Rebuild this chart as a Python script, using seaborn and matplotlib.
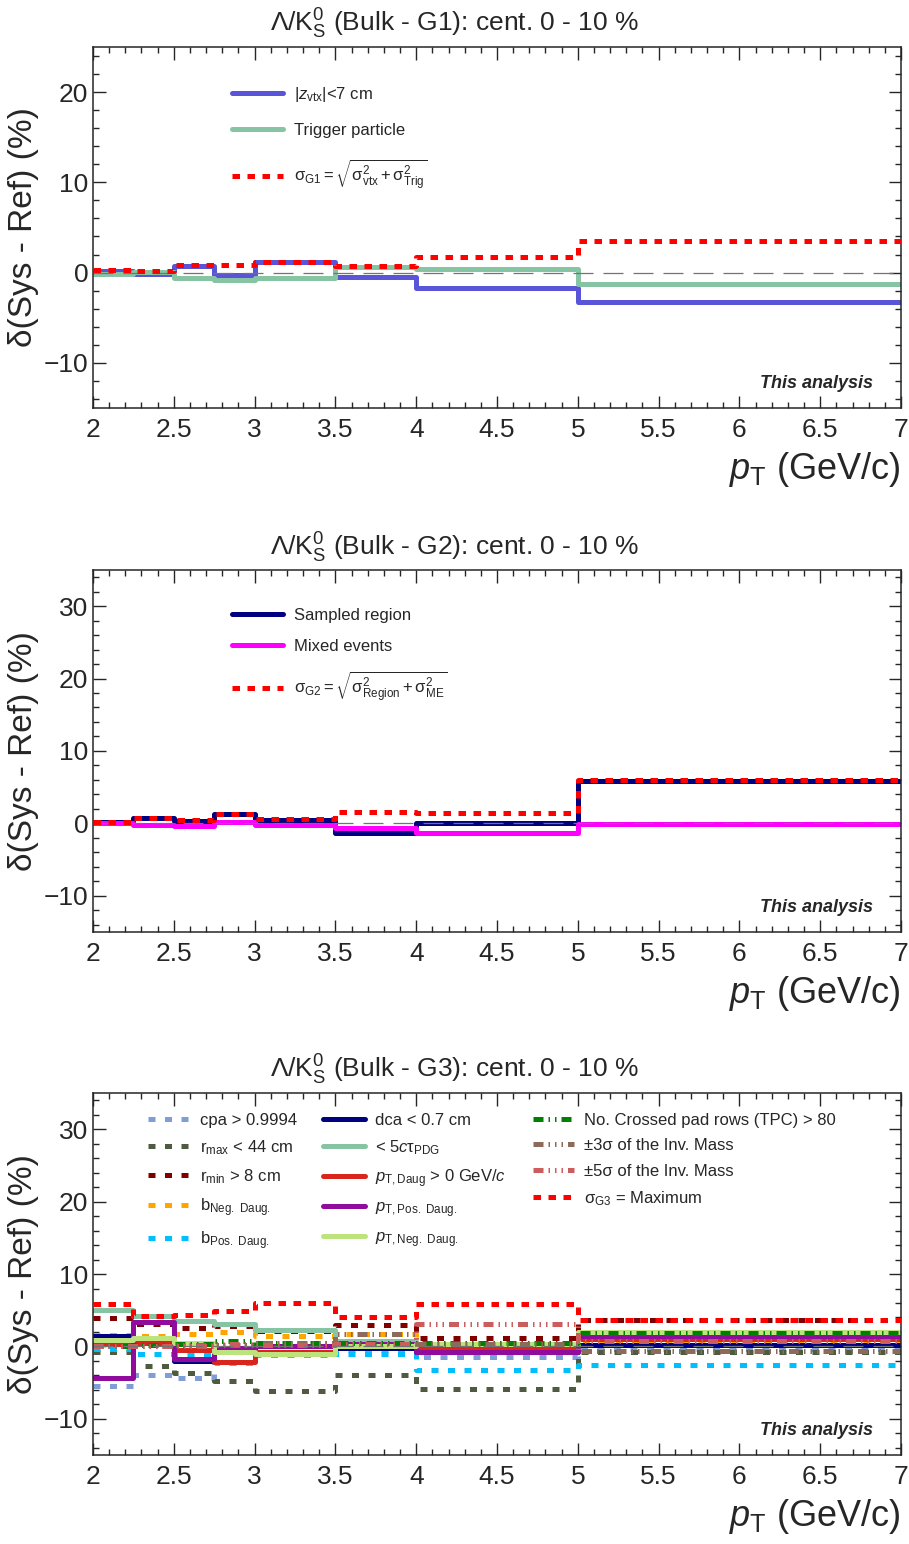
import matplotlib

matplotlib.use("Agg")

import matplotlib.pyplot as plt
import seaborn as sns
from matplotlib.ticker import FuncFormatter, MultipleLocator

# bin edges in pT (GeV/c)
PT_EDGES = [2.0, 2.25, 2.5, 2.75, 3.0, 3.5, 4.0, 5.0, 7.0]

# G1 group
G1_ZVTX = [0.2, -0.15, 0.7, -0.3, 1.15, -0.5, -1.7, -3.3]
G1_TRIG = [-0.2, 0.1, -0.6, -0.85, -0.6, 0.6, 0.35, -1.25]
G1_TOTAL = [0.3, 0.15, 0.8, 0.85, 1.2, 0.7, 1.7, 3.5]

# G2 group
G2_REGION = [0.2, 0.7, 0.3, 1.25, 0.5, -1.4, 0.0, 5.9]
G2_MIXED = [0.1, -0.25, -0.35, 0.2, -0.25, -0.6, -1.4, -0.1]
G2_TOTAL = [0.2, 0.7, 0.4, 1.25, 0.55, 1.6, 1.45, 5.95]

# G3 group (topological / track cuts)
G3_CPA = [-5.5, -3.9, -4.4, -2.3, -1.2, -0.5, -1.5, -0.4]
G3_RMAX = [-0.8, -2.7, -3.6, -4.8, -6.1, -4.0, -5.9, -0.8]
G3_RMIN = [3.9, 3.1, 2.6, 2.8, 2.2, 3.0, 1.1, 3.6]
G3_BNEG = [1.6, 1.4, 1.7, 2.0, 1.5, 1.75, 0.3, 0.5]
G3_BPOS = [-0.3, -1.1, -1.1, -0.7, -0.7, -1.1, -3.3, -2.5]
G3_DCA = [1.5, 0.5, -2.0, -0.3, 0.0, -0.2, -0.7, 0.2]
G3_CTAU = [5.0, 4.2, 3.5, 3.1, 2.3, 0.7, 0.4, 1.25]
G3_PTDAUG = [0.3, 0.5, -0.5, -2.1, -0.7, 0.2, -0.2, 1.0]
G3_PTPOS = [-4.4, 3.4, -1.8, -0.2, 0.0, 0.3, -0.7, 1.5]
G3_PTNEG = [0.9, 1.1, 0.5, -0.8, -1.0, 0.0, 0.3, 2.0]
G3_CROSSED = [0.0, 0.2, 0.3, 0.7, 0.5, 0.5, 0.5, 1.8]
G3_SIG3 = [0.0, 0.0, 0.2, 0.2, 0.5, 1.7, 0.3, -0.6]
G3_SIG5 = [0.0, 0.1, 0.0, 0.3, 0.2, 0.4, 3.1, 0.8]
G3_MAX = [5.8, 4.2, 4.4, 4.9, 6.0, 4.0, 5.8, 3.6]

SOLID = "-"
DOTTED = (0, (1.5, 1.5))
DASHED = (0, (1.4, 1.9))
DASHDOT2 = (0, (2.0, 1.0, 0.3, 1.0, 0.3, 1.0))
DASHDOT3 = (0, (2.0, 1.0, 0.3, 1.0, 0.3, 1.0, 0.3, 1.0))

sns.set_style("ticks")
plt.rcParams["font.family"] = ["Liberation Sans", "DejaVu Sans"]
plt.rcParams["mathtext.fontset"] = "custom"
plt.rcParams["mathtext.rm"] = "Liberation Sans"
plt.rcParams["mathtext.it"] = "Liberation Sans:italic"
plt.rcParams["mathtext.bf"] = "Liberation Sans:bold"
plt.rcParams["axes.linewidth"] = 1.1


def draw_steps(ax, values, color, style, label, lw=3.6, zorder=2):
    y = list(values) + [values[-1]]
    sns.lineplot(
        x=PT_EDGES,
        y=y,
        ax=ax,
        color=color,
        linewidth=lw,
        linestyle=style,
        drawstyle="steps-post",
        estimator=None,
        sort=False,
        label=label,
        zorder=zorder,
    )


def style_axes(ax, ylim, title, title_y):
    ax.set_xlim(2, 7)
    ax.set_ylim(*ylim)
    ax.axhline(0, color="0.45", lw=0.9, linestyle=(0, (16, 8)), zorder=2.5)
    ax.xaxis.set_major_locator(MultipleLocator(0.5))
    ax.xaxis.set_minor_locator(MultipleLocator(0.1))
    ax.yaxis.set_major_locator(MultipleLocator(10))
    ax.yaxis.set_minor_locator(MultipleLocator(2))
    ax.xaxis.set_major_formatter(FuncFormatter(lambda v, _: f"{v:g}"))
    ax.yaxis.set_major_formatter(FuncFormatter(lambda v, _: f"{v:g}".replace("-", "\u2212")))
    ax.tick_params(which="both", direction="in", top=True, right=True, width=1.0)
    ax.tick_params(which="major", length=9, labelsize=19)
    ax.tick_params(axis="x", which="major", pad=7)
    ax.tick_params(which="minor", length=4.5)
    fig.text(0.5, title_y, title, ha="center", va="center", fontsize=19)
    ax.set_ylabel("\u03b4(Sys - Ref) (%)", fontsize=24, labelpad=3)
    ax.set_xlabel("$p_{\\mathrm{T}}$ (GeV/c)", fontsize=26, loc="right", labelpad=6)
    ax.text(0.965, 0.045, "This analysis", transform=ax.transAxes, ha="right", va="bottom",
            fontsize=13, fontweight="bold", fontstyle="italic")
    for s in ax.spines.values():
        s.set_visible(True)


fig = plt.figure(figsize=(9.09, 15.44), dpi=100)
ax1 = fig.add_axes([0.1023, 0.7358, 0.8889, 0.2338])
ax2 = fig.add_axes([0.1023, 0.3964, 0.8889, 0.2345])
ax3 = fig.add_axes([0.1023, 0.0576, 0.8889, 0.2345])

# ---- G1 ----
draw_steps(ax1, G1_ZVTX, "#5a54d8", SOLID, "$|z_{\\mathrm{vtx}}|$<7 cm")
draw_steps(ax1, G1_TRIG, "#86c4a3", SOLID, "Trigger particle")
draw_steps(ax1, G1_TOTAL, "#ff0000", DOTTED,
           "$\\mathrm{\u03c3}_{\\mathrm{G1}} = \\sqrt{\\mathrm{\u03c3}^2_{\\mathrm{vtx}}"
           " + \\mathrm{\u03c3}^2_{\\mathrm{Trig}}}$", zorder=3)
style_axes(ax1, (-15, 25), "\u039b/K$^{0}_{\\mathrm{S}}$ (Bulk - G1): cent. 0 - 10 %", 0.9845)
ax1.legend(loc="upper left", bbox_to_anchor=(0.172, 0.895), frameon=False, fontsize=12,
           handlelength=3.05, handletextpad=0.7, labelspacing=1.15, borderpad=0, borderaxespad=0)

# ---- G2 ----
draw_steps(ax2, G2_REGION, "#000080", SOLID, "Sampled region")
draw_steps(ax2, G2_MIXED, "#ff00ff", SOLID, "Mixed events")
draw_steps(ax2, G2_TOTAL, "#ff0000", DOTTED,
           "$\\mathrm{\u03c3}_{\\mathrm{G2}} = \\sqrt{\\mathrm{\u03c3}^2_{\\mathrm{Region}}"
           " + \\mathrm{\u03c3}^2_{\\mathrm{ME}}}$", zorder=3)
style_axes(ax2, (-15, 35), "\u039b/K$^{0}_{\\mathrm{S}}$ (Bulk - G2): cent. 0 - 10 %", 0.6451)
ax2.legend(loc="upper left", bbox_to_anchor=(0.172, 0.895), frameon=False, fontsize=12,
           handlelength=3.05, handletextpad=0.7, labelspacing=0.95, borderpad=0, borderaxespad=0)

# ---- G3 ----
g3_series = [
    (G3_CPA, "#7f9ed8", DASHED, "cpa > 0.9994"),
    (G3_RMAX, "#4f5b3e", DASHED, "r$_{\\mathrm{max}}$ < 44 cm"),
    (G3_RMIN, "#800000", DASHED, "r$_{\\mathrm{min}}$ > 8 cm"),
    (G3_BNEG, "#ffa500", DASHED, "b$_{\\mathrm{Neg.\\ Daug.}}$"),
    (G3_BPOS, "#00bfff", DASHED, "b$_{\\mathrm{Pos.\\ Daug.}}$"),
    (G3_DCA, "#000080", SOLID, "dca < 0.7 cm"),
    (G3_CTAU, "#86c4a3", SOLID, "< 5$c\\mathrm{\u03c4}_{\\mathrm{PDG}}$"),
    (G3_PTDAUG, "#d8261c", SOLID, "$p_{\\mathrm{T,Daug}}$ > 0 GeV/$c$"),
    (G3_PTPOS, "#900c9c", SOLID, "$p_{\\mathrm{T,Pos.\\ Daug.}}$"),
    (G3_PTNEG, "#bde47c", SOLID, "$p_{\\mathrm{T,Neg.\\ Daug.}}$"),
    (G3_CROSSED, "#008000", DASHDOT2, "No. Crossed pad rows (TPC) > 80"),
    (G3_SIG3, "#8c6b5b", DASHDOT3, "\u00b13\u03c3 of the Inv. Mass"),
    (G3_SIG5, "#cd5c5c", DASHDOT3, "\u00b15\u03c3 of the Inv. Mass"),
]
for vals, color, ls, label in g3_series:
    draw_steps(ax3, vals, color, ls, label)
draw_steps(ax3, G3_MAX, "#ff0000", DOTTED, "\u03c3$_{\\mathrm{G3}}$ = Maximum", zorder=3)
style_axes(ax3, (-15, 35), "\u039b/K$^{0}_{\\mathrm{S}}$ (Bulk - G3): cent. 0 - 10 %", 0.3070)
ax3.legend(loc="upper left", bbox_to_anchor=(0.068, 0.945), frameon=False, fontsize=12, ncol=3,
           handlelength=2.5, handletextpad=0.6, labelspacing=0.62, columnspacing=1.6,
           borderpad=0, borderaxespad=0)

fig.savefig("out.png", dpi=100)
